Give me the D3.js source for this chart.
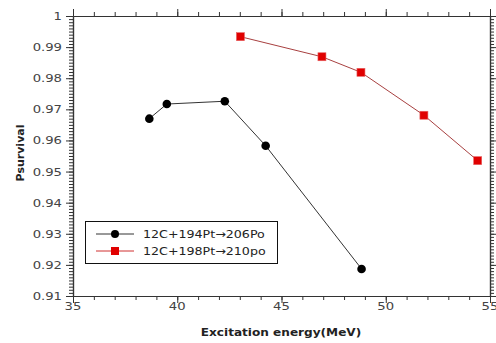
<!DOCTYPE html>
<html><head><meta charset="utf-8">
<script src="https://cdn.jsdelivr.net/npm/d3@7"></script>
<style>body{margin:0;background:#fff}svg{display:block}</style>
</head><body>
<svg id="c" width="496" height="343"></svg>
<script>
const seriesNames = ["12C+194Pt\u2192206Po", "12C+198Pt\u2192210po"];
const energyA = [38.66, 39.5, 42.28, 44.24, 48.84];
const psurvA  = [0.9670, 0.9717, 0.9726, 0.9583, 0.9187];
const energyB = [43.03, 46.94, 48.81, 51.83, 54.41];
const psurvB  = [0.99335, 0.9869, 0.9819, 0.9681, 0.9535];
const xTicks = [35, 40, 45, 50, 55];
const yTicks = [0.91, 0.92, 0.93, 0.94, 0.95, 0.96, 0.97, 0.98, 0.99, 1];
const xTitle = "Excitation energy(MeV)";
const yTitle = "Psurvival";

const svg = d3.select("#c");
const L = 73, R = 490, T = 16, B = 296;
const x = d3.scaleLinear().domain([35, 55]).range([L, R]);
const y = d3.scaleLinear().domain([0.91, 1]).range([B, T]);
const axisColor = "#333";
const font = "DejaVu Sans, sans-serif";
const sx = 1.2;

const xMinor = d3.range(35, 55.001, 1);
const yMinor = d3.range(0, 91).map(i => 0.91 + i * 0.001);

function styleAxis(g) {
  g.selectAll("path").attr("stroke", axisColor).attr("stroke-width", 1.2);
  g.selectAll("line").attr("stroke", axisColor);
  g.selectAll("text").remove();
}
// minor ticks
svg.append("g").attr("transform", `translate(0,${B})`)
  .call(d3.axisBottom(x).tickValues(xMinor).tickSize(4).tickSizeOuter(0)).call(styleAxis);
svg.append("g").attr("transform", `translate(0,${T})`)
  .call(d3.axisTop(x).tickValues(xMinor).tickSize(4).tickSizeOuter(0)).call(styleAxis);
svg.append("g").attr("transform", `translate(${L},0)`)
  .call(d3.axisLeft(y).tickValues(yMinor).tickSize(4).tickSizeOuter(0)).call(styleAxis);
svg.append("g").attr("transform", `translate(${R},0)`)
  .call(d3.axisRight(y).tickValues(yMinor).tickSize(4).tickSizeOuter(0)).call(styleAxis);
// major ticks
svg.append("g").attr("transform", `translate(0,${B})`)
  .call(d3.axisBottom(x).tickValues(xTicks).tickSize(7).tickSizeOuter(0)).call(styleAxis);
svg.append("g").attr("transform", `translate(0,${T})`)
  .call(d3.axisTop(x).tickValues(xTicks).tickSize(7).tickSizeOuter(0)).call(styleAxis);
svg.append("g").attr("transform", `translate(${L},0)`)
  .call(d3.axisLeft(y).tickValues(yTicks).tickSize(7).tickSizeOuter(0)).call(styleAxis);
svg.append("g").attr("transform", `translate(${R},0)`)
  .call(d3.axisRight(y).tickValues(yTicks).tickSize(7).tickSizeOuter(0)).call(styleAxis);

// tick labels
svg.append("g").selectAll("text").data(xTicks).join("text")
  .attr("transform", d => `translate(${x(d)},${310}) scale(${sx},1)`)
  .attr("text-anchor", "middle").attr("font-family", font).attr("font-size", 11)
  .attr("fill", "#444").text(d => d);
svg.append("g").selectAll("text").data(yTicks).join("text")
  .attr("transform", d => `translate(${62},${y(d) + 4}) scale(${sx},1)`)
  .attr("text-anchor", "end").attr("font-family", font).attr("font-size", 11)
  .attr("fill", "#444").text(d => d3.format("")(d));

// titles
svg.append("text").attr("transform", `translate(281,336) scale(1.1,1)`)
  .attr("text-anchor", "middle").attr("font-family", font).attr("font-weight", "bold")
  .attr("font-size", 11).attr("fill", "#222").text(xTitle);
svg.append("text").attr("transform", `translate(24,153) rotate(-90)`)
  .attr("text-anchor", "middle").attr("font-family", font).attr("font-weight", "bold")
  .attr("font-size", 11).attr("fill", "#222").text(yTitle);

// series
const lineA = d3.line().x((d, i) => x(energyA[i])).y(d => y(d));
const lineB = d3.line().x((d, i) => x(energyB[i])).y(d => y(d));
svg.append("path").attr("d", lineA(psurvA)).attr("fill", "none").attr("stroke", "#333").attr("stroke-width", 1);
svg.append("path").attr("d", lineB(psurvB)).attr("fill", "none").attr("stroke", "#a84040").attr("stroke-width", 1);
svg.append("g").selectAll("circle").data(psurvA).join("circle")
  .attr("cx", (d, i) => x(energyA[i])).attr("cy", d => y(d)).attr("r", 4.3).attr("fill", "#000");
svg.append("g").selectAll("rect").data(psurvB).join("rect")
  .attr("x", (d, i) => x(energyB[i]) - 4).attr("y", d => y(d) - 4)
  .attr("width", 8).attr("height", 8).attr("fill", "#e00000").attr("stroke", "#e86060").attr("stroke-width", 0.6);

// legend
const lg = svg.append("g");
lg.append("rect").attr("x", 85.5).attr("y", 221.5).attr("width", 192).attr("height", 42)
  .attr("fill", "#fff").attr("stroke", "#111").attr("stroke-width", 1);
const rows = [234, 251];
lg.append("line").attr("x1", 96).attr("x2", 134).attr("y1", rows[0]).attr("y2", rows[0]).attr("stroke", "#333");
lg.append("circle").attr("cx", 115).attr("cy", rows[0]).attr("r", 4).attr("fill", "#000");
lg.append("line").attr("x1", 96).attr("x2", 134).attr("y1", rows[1]).attr("y2", rows[1]).attr("stroke", "#d03030");
lg.append("rect").attr("x", 111).attr("y", rows[1] - 4).attr("width", 8).attr("height", 8).attr("fill", "#e00000");
lg.selectAll("text.l").data(seriesNames).join("text").attr("class", "l")
  .attr("transform", (d, i) => `translate(143,${rows[i] + 4}) scale(1.15,1)`)
  .attr("font-family", font).attr("font-size", 11).attr("fill", "#222").text(d => d);
</script>
</body></html>
